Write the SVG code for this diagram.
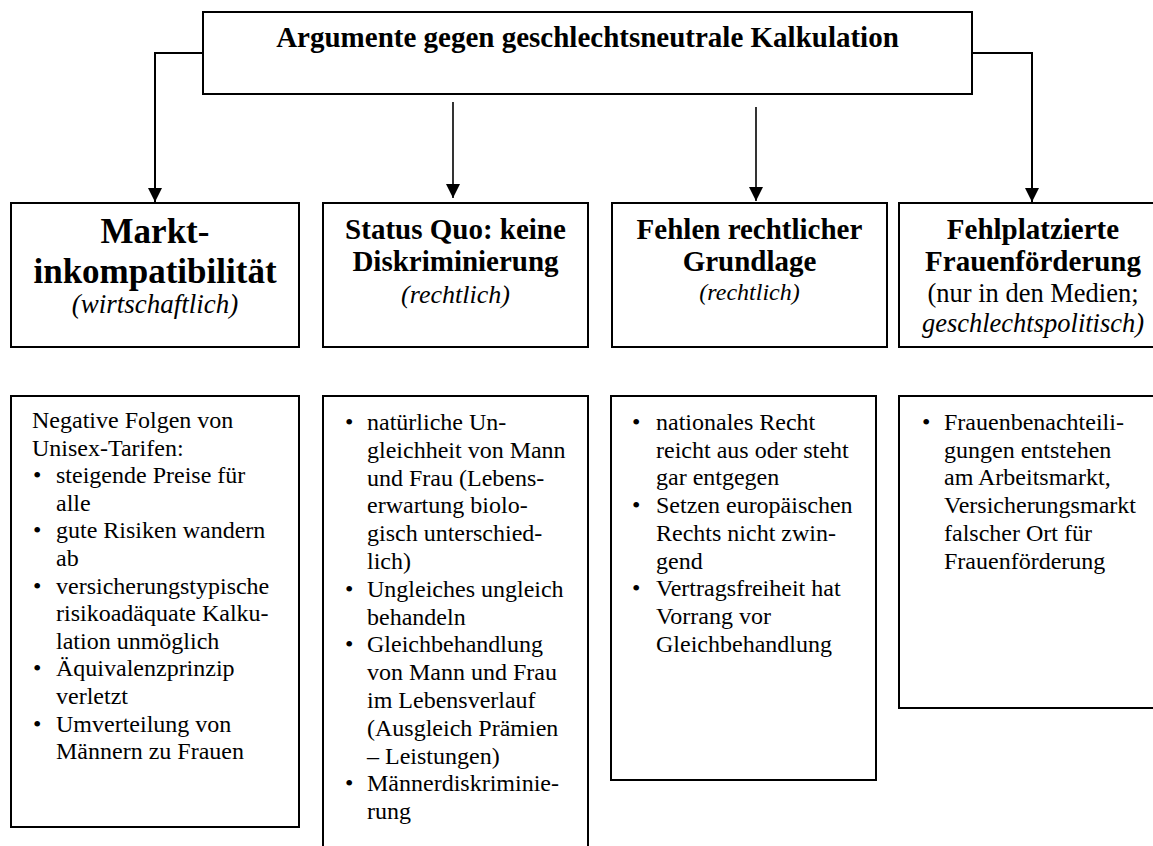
<svg xmlns="http://www.w3.org/2000/svg" width="1153" height="846" viewBox="0 0 1153 846">
<defs>
<style>
.box{fill:#fff;stroke:#000;stroke-width:2}
.con{fill:none;stroke:#000;stroke-width:2}
.thin{fill:none;stroke:#000;stroke-width:1.6}
text{font-family:"Liberation Serif","Times New Roman",serif;fill:#000}
.t{font-weight:bold;font-size:29px;text-anchor:middle}
.hb{font-weight:bold;font-size:29px;text-anchor:middle}
.hbl{font-weight:bold;font-size:35px;text-anchor:middle}
.it{font-style:italic;text-anchor:middle}
.rg{text-anchor:middle}
.body{font-size:24px}
</style>
<marker id="ah" markerUnits="userSpaceOnUse" markerWidth="14" markerHeight="14" refX="14" refY="7" orient="auto">
<path d="M0,0 L14,7 L0,14 Z" fill="#000"/>
</marker>
</defs>
<rect width="1153" height="846" fill="#fff"/>

<g id="connectors">
<polyline class="con" points="203,53 155,53 155,202" marker-end="url(#ah)"/>
<line class="thin" x1="453" y1="102" x2="453" y2="198" marker-end="url(#ah)"/>
<line class="thin" x1="756" y1="107" x2="756" y2="201" marker-end="url(#ah)"/>
<polyline class="con" points="972,53 1032,53 1032,202" marker-end="url(#ah)"/>
</g>

<g id="root">
<rect class="box" x="203" y="12" width="769" height="82"/>
<text class="t" x="587.5" y="47">Argumente gegen geschlechtsneutrale Kalkulation</text>
</g>

<g id="markt">
<rect class="box" x="11" y="203" width="288" height="144"/>
<text class="hbl" x="155" y="243">Markt-</text>
<text class="hbl" x="155" y="283">inkompatibilität</text>
<text class="it" x="155" y="313" font-size="27">(wirtschaftlich)</text>
</g>

<g id="statusquo">
<rect class="box" x="323" y="203" width="265" height="144"/>
<text class="hb" x="455.5" y="239">Status Quo: keine</text>
<text class="hb" x="455.5" y="271">Diskriminierung</text>
<text class="it" x="455.5" y="303" font-size="26">(rechtlich)</text>
</g>

<g id="fehlen">
<rect class="box" x="612" y="203" width="275" height="144"/>
<text class="hb" x="749.5" y="239">Fehlen rechtlicher</text>
<text class="hb" x="749.5" y="271">Grundlage</text>
<text class="it" x="749.5" y="300" font-size="24">(rechtlich)</text>
</g>

<g id="fehlplatziert">
<rect class="box" x="899" y="203" width="268" height="144"/>
<text class="hb" x="1033" y="239">Fehlplatzierte</text>
<text class="hb" x="1033" y="271">Frauenförderung</text>
<text class="rg" x="1033" y="302" font-size="26.5">(nur in den Medien;</text>
<text class="it" x="1033" y="332" font-size="26.5">geschlechtspolitisch)</text>
</g>

<g id="markt-details">
<rect class="box" x="11" y="396" width="288" height="431"/>
<text class="body">
<tspan x="32" y="428">Negative Folgen von</tspan>
<tspan x="32" y="455.6">Unisex-Tarifen:</tspan>
<tspan x="56" y="483.2">steigende Preise für</tspan>
<tspan x="56" y="510.8">alle</tspan>
<tspan x="56" y="538.4">gute Risiken wandern</tspan>
<tspan x="56" y="566">ab</tspan>
<tspan x="56" y="593.6">versicherungstypische</tspan>
<tspan x="56" y="621.2">risikoadäquate Kalku-</tspan>
<tspan x="56" y="648.8">lation unmöglich</tspan>
<tspan x="56" y="676.4">Äquivalenzprinzip</tspan>
<tspan x="56" y="704">verletzt</tspan>
<tspan x="56" y="731.6">Umverteilung von</tspan>
<tspan x="56" y="759.2">Männern zu Frauen</tspan>
</text>
<text class="body">
<tspan x="33" y="483.2">•</tspan>
<tspan x="33" y="538.4">•</tspan>
<tspan x="33" y="593.6">•</tspan>
<tspan x="33" y="676.4">•</tspan>
<tspan x="33" y="731.6">•</tspan>
</text>
</g>

<g id="statusquo-details">
<rect class="box" x="323" y="396" width="265" height="470"/>
<text class="body">
<tspan x="367" y="430">natürliche Un-</tspan>
<tspan x="367" y="457.8">gleichheit von Mann</tspan>
<tspan x="367" y="485.6">und Frau (Lebens-</tspan>
<tspan x="367" y="513.4">erwartung biolo-</tspan>
<tspan x="367" y="541.2">gisch unterschied-</tspan>
<tspan x="367" y="569">lich)</tspan>
<tspan x="367" y="596.8">Ungleiches ungleich</tspan>
<tspan x="367" y="624.6">behandeln</tspan>
<tspan x="367" y="652.4">Gleichbehandlung</tspan>
<tspan x="367" y="680.2">von Mann und Frau</tspan>
<tspan x="367" y="708">im Lebensverlauf</tspan>
<tspan x="367" y="735.8">(Ausgleich Prämien</tspan>
<tspan x="367" y="763.6">– Leistungen)</tspan>
<tspan x="367" y="791.4">Männerdiskriminie-</tspan>
<tspan x="367" y="819.2">rung</tspan>
</text>
<text class="body">
<tspan x="345" y="430">•</tspan>
<tspan x="345" y="596.8">•</tspan>
<tspan x="345" y="652.4">•</tspan>
<tspan x="345" y="791.4">•</tspan>
</text>
</g>

<g id="fehlen-details">
<rect class="box" x="611" y="396" width="265" height="384"/>
<text class="body">
<tspan x="656" y="430">nationales Recht</tspan>
<tspan x="656" y="457.7">reicht aus oder steht</tspan>
<tspan x="656" y="485.4">gar entgegen</tspan>
<tspan x="656" y="513.1">Setzen europäischen</tspan>
<tspan x="656" y="540.8">Rechts nicht zwin-</tspan>
<tspan x="656" y="568.5">gend</tspan>
<tspan x="656" y="596.2">Vertragsfreiheit hat</tspan>
<tspan x="656" y="623.9">Vorrang vor</tspan>
<tspan x="656" y="651.6">Gleichbehandlung</tspan>
</text>
<text class="body">
<tspan x="632" y="430">•</tspan>
<tspan x="632" y="513.1">•</tspan>
<tspan x="632" y="596.2">•</tspan>
</text>
</g>

<g id="fehlplatziert-details">
<rect class="box" x="899" y="396" width="268" height="312"/>
<text class="body">
<tspan x="944" y="430">Frauenbenachteili-</tspan>
<tspan x="944" y="457.7">gungen entstehen</tspan>
<tspan x="944" y="485.4">am Arbeitsmarkt,</tspan>
<tspan x="944" y="513.1">Versicherungsmarkt</tspan>
<tspan x="944" y="540.8">falscher Ort für</tspan>
<tspan x="944" y="568.5">Frauenförderung</tspan>
</text>
<text class="body">
<tspan x="922" y="430">•</tspan>
</text>
</g>
</svg>
